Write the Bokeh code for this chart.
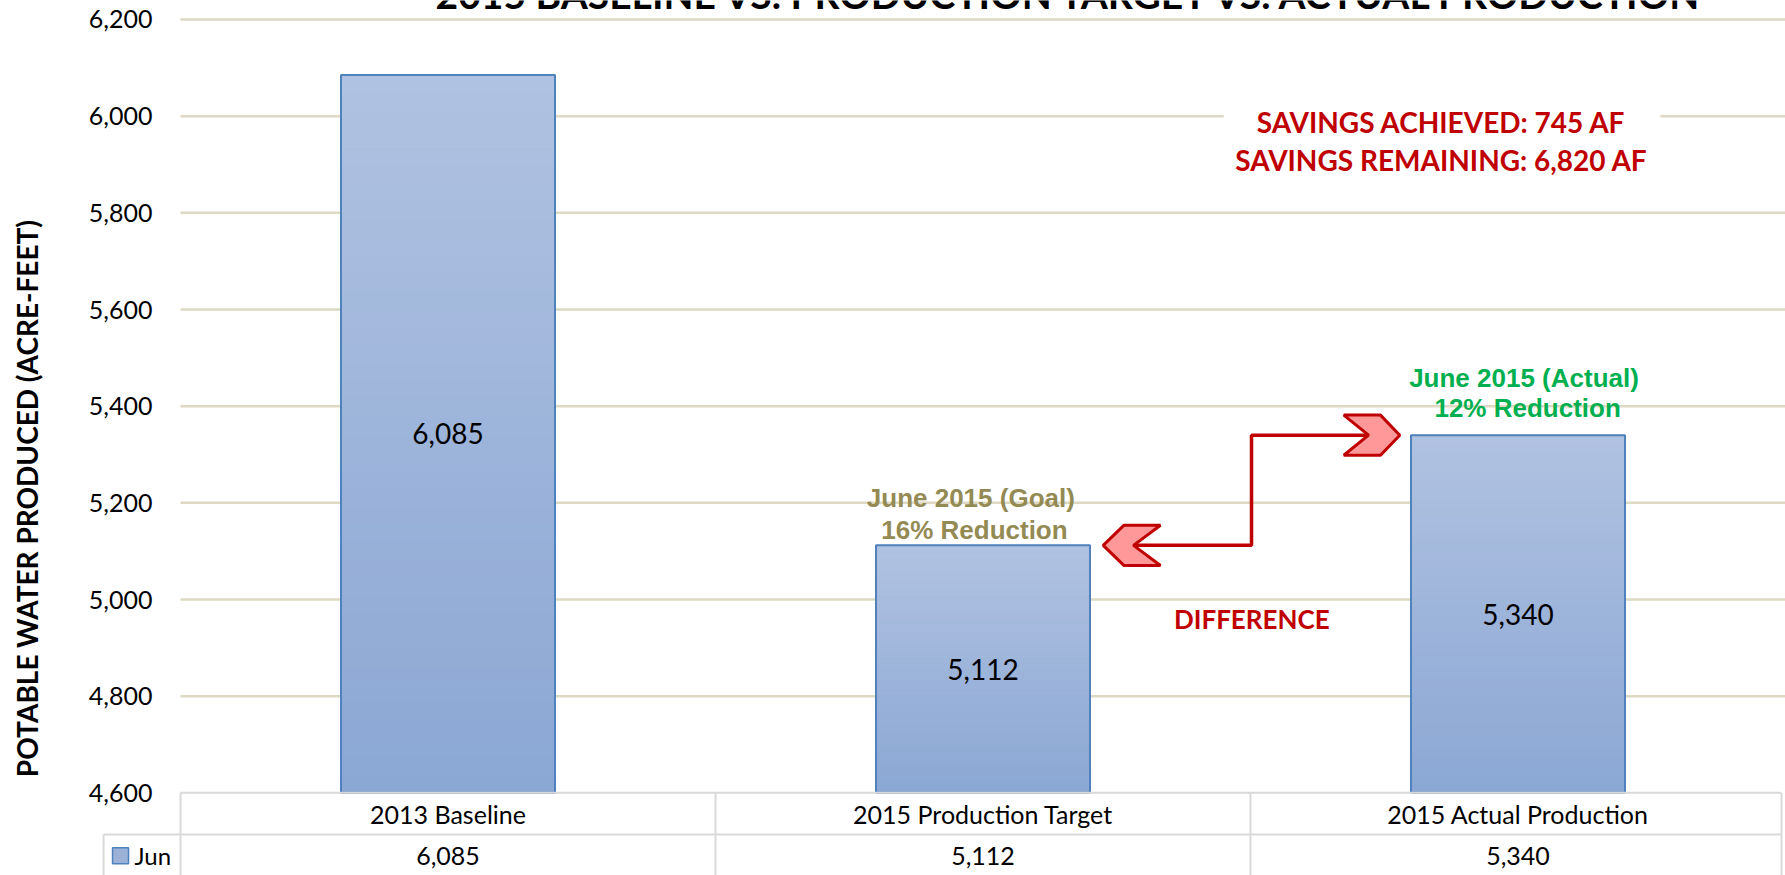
import numpy as np
from bokeh.plotting import figure
from bokeh.models import (Range1d, FixedTicker, NumeralTickFormatter,
                          Label, BoxAnnotation, ColumnDataSource)
from bokeh.embed import file_html
from bokeh.resources import INLINE
from bokeh.core.properties import value

# ---------------- data ----------------
categories = ["2013 Baseline", "2015 Production Target", "2015 Actual Production"]
production = [6085, 5112, 5340]
series_name = "Jun"
y_ticks = [4600, 4800, 5000, 5200, 5400, 5600, 5800, 6000, 6200]
title_text = "2015 BASELINE VS. PRODUCTION TARGET VS. ACTUAL PRODUCTION"
y_label = "POTABLE WATER PRODUCED (ACRE-FEET)"
goal_lines = ["June 2015  (Goal)", "16% Reduction"]
actual_lines = ["June 2015  (Actual)", "12% Reduction"]
savings_lines = ["SAVINGS ACHIEVED: 745 AF", "SAVINGS REMAINING: 6,820 AF"]
diff_text = "DIFFERENCE"

FONT = "Lato"
W, H = 1785, 875
YMIN = y_ticks[0]
YMAX = y_ticks[-1]
BAR_W = 0.4
ncat = len(categories)
xc = [i + 0.5 for i in range(ncat)]

# layout constants (data units)
X_START = -0.33645        # left edge of the picture
X_LEFT = -0.1458          # left edge of the table's legend column
Y_BOTTOM = 4428.97        # bottom of the picture (table value row)
Y_TOP = 6239.31           # top of the picture
Y_HDR = 4513.8            # line between header row and value row
Y_HDR_TXT = 4556.0
Y_VAL_TXT = 4470.0
TABLE_RIGHT = 2.9925

p = figure(width=W, height=H, x_range=Range1d(X_START, 3.0), y_range=Range1d(Y_BOTTOM, Y_TOP),
           output_backend="svg", toolbar_location=None, title=None, x_axis_location=None,
           min_border_left=0, min_border_right=0, min_border_top=0, min_border_bottom=0)
p.outline_line_color = None
p.background_fill_color = "white"
p.border_fill_color = "white"
p.grid.visible = False

ax = p.yaxis[0]
ax.fixed_location = 0
ax.ticker = FixedTicker(ticks=y_ticks)
ax.formatter = NumeralTickFormatter(format="0,0")
ax.axis_line_color = None
ax.major_tick_line_color = None
ax.minor_tick_line_color = None
ax.major_tick_out = 0
ax.major_tick_in = 0
ax.major_label_standoff = 28
ax.major_label_text_font = FONT
ax.major_label_text_font_size = "25px"
ax.major_label_text_color = "#000000"

# horizontal grid lines (plot area only)
gt = y_ticks[1:]
p.segment(x0=[0] * len(gt), y0=gt, x1=[3.0] * len(gt), y1=gt,
          line_color="#ddd9c3", line_width=2.5)

# gradient bars
top_rgb = np.array([0xb0, 0xc2, 0xe1], dtype=float)
bot_rgb = np.array([0x8b, 0xa7, 0xd4], dtype=float)
N = 40
sx, sb, st, sc = [], [], [], []
for x, v in zip(xc, production):
    edges = np.linspace(YMIN, v, N + 1)
    for i in range(N):
        f = (i + 0.5) / N
        rgb = bot_rgb + (top_rgb - bot_rgb) * f
        sx.append(x)
        sb.append(edges[i])
        st.append(edges[i + 1])
        sc.append("#%02x%02x%02x" % tuple(int(round(c)) for c in rgb))
p.vbar(x="x", width=BAR_W, bottom="b", top="t", fill_color="c", line_color="c",
       line_width=1, source=ColumnDataSource(dict(x=sx, b=sb, t=st, c=sc)))
p.vbar(x=xc, width=BAR_W, bottom=YMIN, top=production, fill_alpha=0,
       line_color="#4f81bd", line_width=2)

p.text(x=xc, y=[(v + YMIN) / 2 for v in production],
       text=[f"{v:,}" for v in production],
       text_font=value(FONT), text_font_size="28px", text_align="center",
       text_baseline="middle", text_color="#000000")

# ---------------- data table ----------------
hx0 = [0, X_LEFT + 0.002]
hx1 = [TABLE_RIGHT, TABLE_RIGHT]
hy = [YMIN, Y_HDR]
vx = [0, 1, 2, TABLE_RIGHT, X_LEFT + 0.002]
vy0 = [Y_BOTTOM] * 5
vy1 = [YMIN] * 4 + [Y_HDR]
p.segment(x0=hx0 + vx, y0=hy + vy0, x1=hx1 + vx, y1=hy + vy1,
          line_color="#d9d9d9", line_width=2)
p.text(x=xc, y=[Y_HDR_TXT] * ncat, text=categories, text_font=value(FONT),
       text_font_size="25px", text_align="center", text_baseline="middle", text_color="#000000")
p.text(x=xc, y=[Y_VAL_TXT] * ncat, text=[f"{v:,}" for v in production], text_font=value(FONT),
       text_font_size="25px", text_align="center", text_baseline="middle", text_color="#000000")
p.scatter(x=[-0.1121], y=[Y_VAL_TXT], marker="square", size=16, fill_color="#9bb1d8",
          line_color="#4f81bd", line_width=1.5)
p.text(x=[-0.086], y=[Y_VAL_TXT], text=[series_name], text_font=value(FONT), text_font_size="24px",
       text_align="left", text_baseline="middle", text_color="#000000")

# ---------------- annotations ----------------
# y-axis title
p.text(x=[-0.286], y=[5209], text=[y_label], angle=np.pi / 2, text_align="center",
       text_baseline="middle", text_font=value(FONT), text_font_style="bold",
       text_font_size="28px", text_color="#000000")

p.add_layout(BoxAnnotation(left=1.95, right=2.766, bottom=5978, top=6025,
                           fill_color="white", fill_alpha=1.0, line_alpha=0))
for txt, yy in zip(savings_lines, [5987, 5910]):
    p.add_layout(Label(x=2.357, y=yy, text=txt, text_align="center", text_baseline="middle",
                       text_font=FONT, text_font_style="bold", text_font_size="28px",
                       text_color="#c00000"))

for txt, yy in zip(goal_lines, [5210, 5144]):
    p.add_layout(Label(x=1.484, y=yy, text=txt, text_align="center", text_baseline="middle",
                       text_font="Liberation Sans", text_font_style="bold",
                       text_font_size="26px", text_color="#948a54"))
for txt, yy in zip(actual_lines, [5459, 5397]):
    p.add_layout(Label(x=2.518, y=yy, text=txt, text_align="center", text_baseline="middle",
                       text_font="Liberation Sans", text_font_style="bold",
                       text_font_size="26px", text_color="#00b050"))
p.add_layout(Label(x=2.0024, y=4959, text=diff_text, text_align="center", text_baseline="middle",
                   text_font=FONT, text_font_style="bold", text_font_size="26px",
                   text_color="#c00000"))

# title (cut off at the top, as in the reference)
p.add_layout(Label(x=1.665, y=6253, text=title_text, text_align="center",
                   text_baseline="alphabetic", text_font=FONT, text_font_style="bold",
                   text_font_size="39px", text_color="#000000"))

# difference arrow
target, actual = production[1], production[2]
lx, mx, rx = 1.7813, 2.0019, 2.2206
p.line([lx, mx, mx, rx], [target, target, actual, actual], line_color="#c00000", line_width=3.5)
hh = 41.5
chev_xs = [
    [2.1744, 2.243, 2.279, 2.243, 2.1744, rx],
    [1.7247, 1.7632, 1.8318, lx, 1.8318, 1.7632],
]
chev_ys = [
    [actual + hh, actual + hh, actual, actual - hh, actual - hh, actual],
    [target, target + hh, target + hh, target, target - hh, target - hh],
]
p.patches(chev_xs, chev_ys, fill_color="#ff9999", line_color="#c00000", line_width=3)

open("out.html", "w").write(file_html(p, INLINE))
